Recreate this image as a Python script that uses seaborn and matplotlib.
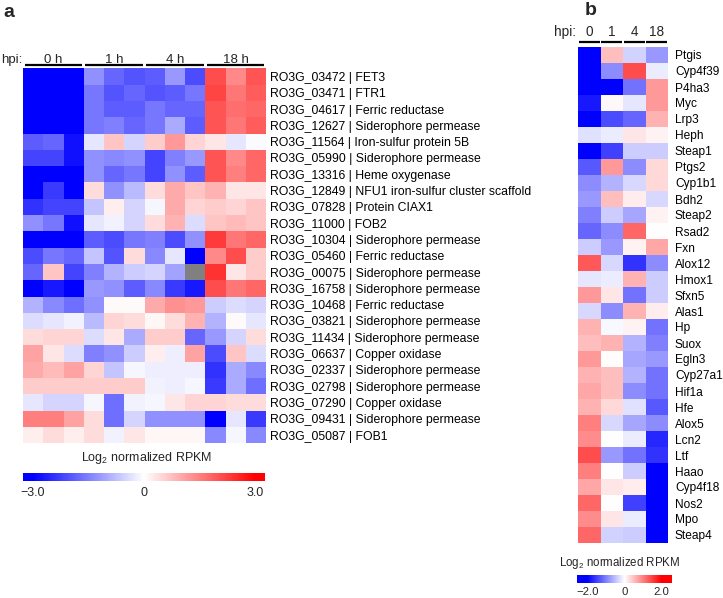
import numpy as np
import pandas as pd
import matplotlib
matplotlib.use("Agg")
import matplotlib.pyplot as plt
import seaborn as sns
from matplotlib.transforms import blended_transform_factory

# ---------------- Panel a data ----------------
a_genes = [
    "RO3G_03472 | FET3",
    "RO3G_03471 | FTR1",
    "RO3G_04617 | Ferric reductase",
    "RO3G_12627 | Siderophore permease",
    "RO3G_11564 | Iron-sulfur protein 5B",
    "RO3G_05990 | Siderophore permease",
    "RO3G_13316 | Heme oxygenase",
    "RO3G_12849 | NFU1 iron-sulfur cluster scaffold",
    "RO3G_07828 | Protein CIAX1",
    "RO3G_11000 | FOB2",
    "RO3G_10304 | Siderophore permease",
    "RO3G_05460 | Ferric reductase",
    "RO3G_00075 | Siderophore permease",
    "RO3G_16758 | Siderophore permease",
    "RO3G_10468 | Ferric reductase",
    "RO3G_03821 | Siderophore permease",
    "RO3G_11434 | Siderophore permease",
    "RO3G_06637 | Copper oxidase",
    "RO3G_02337 | Siderophore permease",
    "RO3G_02798 | Siderophore permease",
    "RO3G_07290 | Copper oxidase",
    "RO3G_09431 | Siderophore permease",
    "RO3G_05087 | FOB1",
]
a_hpi = ["0 h", "1 h", "4 h", "18 h"]

a_0h = [
    [-3.0, -3.0, -3.0], [-3.0, -3.0, -3.0], [-3.0, -3.0, -3.0], [-3.0, -3.0, -3.0],
    [-1.9, -1.8, -2.8], [-2.2, -2.2, -2.8], [-3.0, -3.0, -3.0], [-3.0, -2.3, -3.0],
    [-2.4, -2.2, -2.2], [-1.3, -1.6, -2.8], [-3.0, -3.0, -3.0], [-2.1, -1.6, -1.8],
    [-1.8, 0.7, -2.2], [-3.0, -2.7, -3.0], [-0.9, -1.4, -1.7], [-0.4, -0.3, -0.15],
    [0.4, 0.5, 0.5], [1.1, 0.3, -0.4], [1.0, 0.8, 1.1], [0.6, 0.6, 0.6],
    [-0.3, -0.5, -0.5], [1.5, 1.5, 1.1], [0.2, 0.4, 0.2],
]
a_1h = [
    [-1.3, -1.8, -2.0], [-1.6, -2.0, -1.8], [-1.6, -1.9, -1.9], [-1.6, -1.5, -1.8],
    [-0.3, 0.7, -0.5], [-1.3, -1.4, -1.3], [-1.3, -1.8, -1.6], [0.4, -1.3, -0.8],
    [-0.7, 0.2, -0.5], [-0.3, -0.15, -0.5], [-1.9, -2.1, -1.6], [-0.7, -2.0, 0.4],
    [-1.5, -0.9, -0.6], [-1.2, -1.3, -1.9], [-1.3, 0.05, 0.05], [-0.8, 0.5, 0.4],
    [-0.4, 0.3, -1.0], [-1.5, -1.3, -0.6], [0.5, -0.7, -0.1], [0.6, 0.6, 0.6],
    [-0.1, -1.7, -0.15], [0.4, -1.7, -0.5], [0.4, -0.15, 0.3],
]
a_4h = [
    [-1.9, -1.2, -2.1], [-2.0, -1.9, -1.6], [-1.6, -1.8, -1.8], [-1.6, -1.0, -1.9],
    [0.6, 1.2, 0.5], [-2.2, -1.5, -1.2], [-2.2, -1.3, -1.9], [0.4, 1.0, 0.7],
    [-0.1, 1.0, 0.5], [0.4, 0.9, -0.4], [-1.5, -2.1, -1.3], [-1.4, -0.3, -3.0],
    [-0.5, -1.1, np.nan], [-1.4, -2.3, -2.7], [1.0, 1.3, 1.2], [0.1, 0.4, 0.9],
    [0.6, 0.6, -1.8], [0.2, -0.2, 1.1], [-0.2, -0.2, -0.2], [-0.15, -0.2, -0.1],
    [-0.1, 0.3, 0.5], [-1.3, -1.3, -1.3], [0.1, 0.1, 0.1],
]
a_18h = [
    [2.1, 1.4, 2.0], [2.2, 1.6, 1.9], [2.0, 1.7, 1.8], [2.0, 1.6, 1.9],
    [0.3, -0.3, -0.05], [2.0, 1.4, 1.8], [2.0, 1.5, 1.8], [0.9, 0.3, 0.3],
    [0.6, 0.5, 0.7], [0.7, 0.8, 0.7], [2.3, 1.6, 1.8], [1.4, 2.1, 0.6],
    [2.4, 0.3, 0.6], [2.1, 1.6, 1.8], [-0.6, -0.4, -0.5], [-0.9, 0.05, -0.3],
    [-1.2, -0.5, 0.4], [-2.1, 0.7, -0.4], [-2.4, -1.0, -1.4], [-2.3, -1.0, -1.7],
    [0.5, 0.4, 0.4], [-3.0, -0.3, -2.3], [-1.4, -0.1, -1.4],
]

# ---------------- Panel b data ----------------
b_genes = ["Ptgis", "Cyp4f39", "P4ha3", "Myc", "Lrp3", "Heph", "Steap1", "Ptgs2",
           "Cyp1b1", "Bdh2", "Steap2", "Rsad2", "Fxn", "Alox12", "Hmox1", "Sfxn5",
           "Alas1", "Hp", "Suox", "Egln3", "Cyp27a1", "Hif1a", "Hfe", "Alox5",
           "Lcn2", "Ltf", "Haao", "Cyp4f18", "Nos2", "Mpo", "Steap4"]
b_hpi = ["0", "1", "4", "18"]
b_0 = [-2.0, -2.0, -2.0, -1.8, -2.0, -0.25, -2.0, -1.3, -0.9, -0.8, -1.0, -1.2, -0.4,
       1.3, -0.2, 0.8, -0.3, 0.6, 0.5, 0.8, 0.6, 0.7, 0.6, 1.0, 0.9, 1.4, 1.0, 0.7,
       1.2, 0.9, 1.2]
b_1 = [0.5, -0.9, -2.0, 0.05, -1.4, -0.15, -1.5, 0.8, -0.6, 0.5, -0.4, -0.9, -0.8,
       -0.3, -0.15, 0.2, -0.9, -0.05, 0.6, 0.02, 0.5, 0.5, 0.3, -0.3, 0.0, -0.8, 0.0,
       0.2, 0.0, 0.2, -0.35]
b_4 = [-0.35, 1.4, -1.1, -0.2, -1.2, 0.2, -0.4, -0.9, -0.3, 0.15, -0.7, 1.2, 0.1,
       -1.6, 0.6, -1.1, 0.6, 0.1, -0.6, -0.7, -0.6, -0.9, -0.25, -0.7, -0.15, -1.1,
       -0.4, 0.15, -1.5, -0.15, -0.4]
b_18 = [-0.8, -0.15, 0.8, 0.8, 0.6, 0.1, -0.4, 0.3, 0.3, -0.3, 0.1, 0.0, 0.7, -0.9,
        -0.4, -0.4, 0.15, -1.1, -1.0, -0.8, -1.1, -1.1, -1.3, -0.9, -1.7, -1.6, -2.0,
        -2.0, -2.0, -2.0, -2.0]

# ---------------- style ----------------
sns.set_theme(style="white")
plt.rcParams["font.family"] = ["Liberation Sans", "DejaVu Sans"]
plt.rcParams["mathtext.fontset"] = "custom"
plt.rcParams["mathtext.rm"] = "Liberation Sans"
plt.rcParams["mathtext.it"] = "Liberation Sans:italic"
plt.rcParams["mathtext.bf"] = "Liberation Sans:bold"
plt.rcParams["axes.unicode_minus"] = True

W, H = 723, 598
fig = plt.figure(figsize=(W / 100, H / 100), dpi=100)
fig.patch.set_facecolor("white")


def frac_box(x0, y0, x1, y1):
    return [x0 / W, 1 - y1 / H, (x1 - x0) / W, (y1 - y0) / H]


# ---------------- Panel a ----------------
a_mat = np.hstack([np.array(a_0h), np.array(a_1h), np.array(a_4h), np.array(a_18h)])
a_cols = [f"{h} r{i}" for h in a_hpi for i in range(1, 4)]
dfa = pd.DataFrame(a_mat, index=a_genes, columns=a_cols)

axa = fig.add_axes(frac_box(23, 68.3, 266, 443.2))
sns.heatmap(dfa, ax=axa, cmap="bwr", vmin=-3, vmax=3, cbar=False,
            xticklabels=False, yticklabels=True)
axa.set_facecolor("#808080")
axa.yaxis.tick_right()
axa.tick_params(axis="y", length=0, pad=3, labelsize=8.8, rotation=0, colors="black")
axa.set_xlabel("")
axa.set_ylabel("")

ta = blended_transform_factory(axa.transData, axa.transAxes)
ha_px = 443.2 - 68.3
for i, h in enumerate(a_hpi):
    x0 = 3 * i
    axa.plot([x0 + 0.08, x0 + 2.92], [1 + 3.0 / ha_px] * 2, color="black", lw=1.6,
             transform=ta, clip_on=False, solid_capstyle="butt")
    axa.text(x0 + 1.5, 1 + 5.5 / ha_px, h, transform=ta, ha="center", va="baseline",
             fontsize=9.5)
axa.text(-0.05, 1 + 5.5 / ha_px, "hpi:", transform=ta, ha="right", va="baseline",
         fontsize=9.5)

fig.text(3 / W, 1 - 17 / H, "a", fontsize=14, fontweight="bold", va="baseline")

# colorbar a
caxa = fig.add_axes(frac_box(23, 472.5, 265, 481))
cba = fig.colorbar(axa.collections[0], cax=caxa, orientation="horizontal",
                   extend="both", extendrect=True, extendfrac=0.045)
cba.outline.set_visible(False)
cba.set_ticks([-3, 0, 3])
cba.set_ticklabels(["\u22123.0", "0", "3.0"])
caxa.tick_params(length=0, pad=4, labelsize=9)
fig.text(147 / W, 1 - 458 / H, "Log$_2$ normalized RPKM", ha="center", va="center",
         fontsize=9)

# ---------------- Panel b ----------------
b_mat = np.column_stack([b_0, b_1, b_4, b_18])
dfb = pd.DataFrame(b_mat, index=b_genes, columns=b_hpi)

axb = fig.add_axes(frac_box(578, 47, 668, 543))
sns.heatmap(dfb, ax=axb, cmap="bwr", vmin=-2, vmax=2, cbar=False,
            xticklabels=False, yticklabels=True)
axb.yaxis.tick_right()
axb.tick_params(axis="y", length=0, pad=5, labelsize=8.6, rotation=0, colors="black")
axb.set_xlabel("")
axb.set_ylabel("")

tb = blended_transform_factory(axb.transData, axb.transAxes)
hb_px = 543 - 47
for i, h in enumerate(b_hpi):
    axb.plot([i + 0.04, i + 0.96], [1 + 5.5 / hb_px] * 2, color="black", lw=1.6,
             transform=tb, clip_on=False, solid_capstyle="butt")
    axb.text(i + 0.5, 1 + 11 / hb_px, h, transform=tb, ha="center", va="baseline",
             fontsize=9.8)
axb.text(-0.1, 1 + 11 / hb_px, "hpi:", transform=tb, ha="right", va="baseline",
         fontsize=9.8)

fig.text(585 / W, 1 - 15 / H, "b", fontsize=14, fontweight="bold", va="baseline")

# colorbar b
caxb = fig.add_axes(frac_box(577, 575, 672, 583))
cbb = fig.colorbar(axb.collections[0], cax=caxb, orientation="horizontal",
                   extend="both", extendrect=True, extendfrac=0.142)
cbb.outline.set_visible(False)
cbb.set_ticks([-2, 0, 2])
cbb.set_ticklabels(["\u22122.0", "0", "2.0"])
caxb.tick_params(length=0, pad=3, labelsize=8.2)
fig.text(620 / W, 1 - 563 / H, "Log$_2$ normalized RPKM", ha="center", va="center",
         fontsize=8.3)

fig.savefig("out.png", dpi=100, facecolor="white")
